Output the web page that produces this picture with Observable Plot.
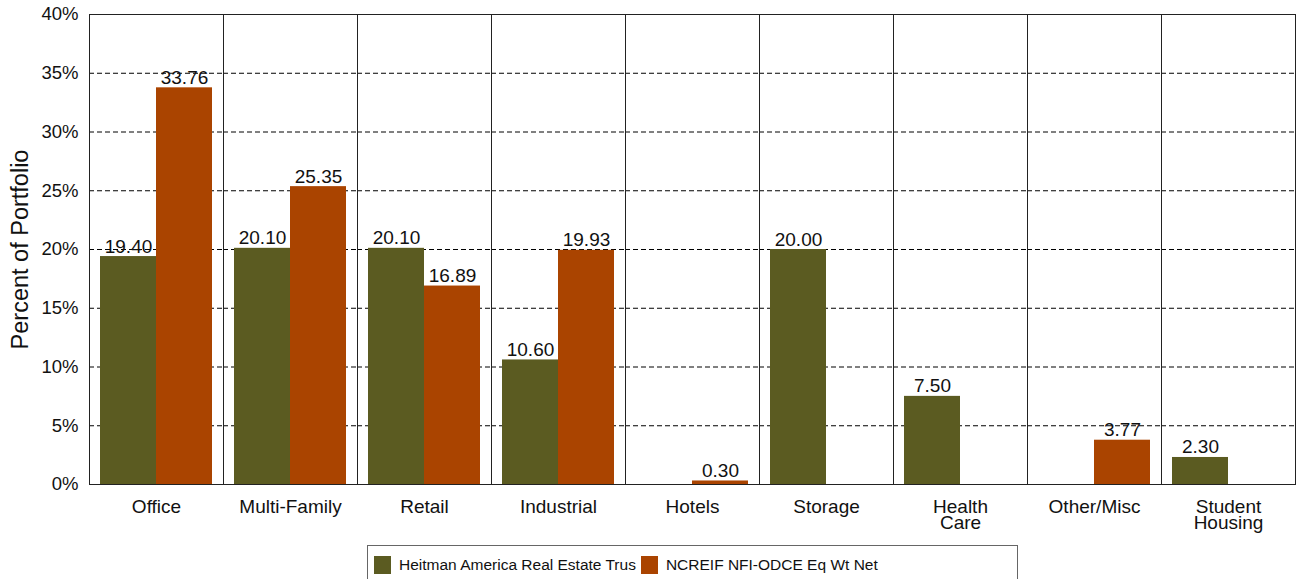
<!DOCTYPE html>
<html>
<head>
<meta charset="utf-8">
<script src="https://cdn.jsdelivr.net/npm/d3@7"></script>
<script src="https://cdn.jsdelivr.net/npm/@observablehq/plot@0.6"></script>
<style>
  body { margin: 0; background: #fff; font-family: "Liberation Sans", Arial, sans-serif; }
  #chart { width: 1303px; }
  #chart svg { display: block; }
  #legend { margin-left: 367px; margin-top: 5px; width: 651px; height: 44px; border: 1px solid #666; box-sizing: border-box; padding: 10px 0 0 6px; font-size: 15.5px; color: #111; white-space: nowrap; }
  #legend .sw { display: inline-block; width: 17px; height: 18px; margin-right: 8px; vertical-align: -4px; }
  #legend .item { display: inline-block; margin-right: 5px; }
</style>
</head>
<body>
<div id="chart"></div>
<div id="legend"></div>
<script>
const categories = ["Office", "Multi-Family", "Retail", "Industrial", "Hotels", "Storage", "Health Care", "Other/Misc", "Student Housing"];
const tickLabels = ["Office", "Multi-Family", "Retail", "Industrial", "Hotels", "Storage", "Health\nCare", "Other/Misc", "Student\nHousing"];
const seriesNames = ["Heitman America Real Estate Trus", "NCREIF NFI-ODCE Eq Wt Net"];
const heitman = [19.40, 20.10, 20.10, 10.60, null, 20.00, 7.50, null, 2.30];
const ncreif = [33.76, 25.35, 16.89, 19.93, 0.30, null, null, 3.77, null];
const colors = ["#5b5b21", "#aa4400"];
const yTicks = [0, 5, 10, 15, 20, 25, 30, 35, 40];
const gridTicks = [5, 10, 15, 20, 25, 30, 35];

const data = [];
categories.forEach((c, i) => {
  if (heitman[i] != null) data.push({cat: c, series: seriesNames[0], value: heitman[i]});
  if (ncreif[i] != null) data.push({cat: c, series: seriesNames[1], value: ncreif[i]});
});

const plot = Plot.plot({
  width: 1303,
  height: 540,
  marginTop: 14,
  marginBottom: 56,
  marginLeft: 87,
  marginRight: 7,
  style: {fontFamily: "'Liberation Sans', Arial, sans-serif", fontSize: "16px", color: "#111"},
  fx: {domain: categories, padding: 0},
  x: {domain: seriesNames, paddingInner: 0, paddingOuter: 0.19, axis: null},
  y: {domain: [0, 40]},
  color: {domain: seriesNames, range: colors},
  marks: [
    Plot.gridY(gridTicks, {stroke: "#000", strokeOpacity: 1, strokeDasharray: "5,3", strokeWidth: 1}),
    Plot.barY(data, {fx: "cat", x: "series", y: "value", fill: "series"}),
    Plot.text(data, {fx: "cat", x: "series", y: "value", text: d => d.value.toFixed(2), lineAnchor: "bottom", dy: -4, fontSize: 19, fill: "#111"}),
    Plot.frame({stroke: "#222", strokeWidth: 1}),
    Plot.axisY({ticks: yTicks, tickFormat: d => d + "%", tickSize: 0, tickPadding: 11, fontSize: 18.5, label: null}),
    Plot.axisFx({anchor: "bottom", tickSize: 0, tickPadding: 17, fontSize: 19, label: null, lineHeight: 0.85,
      tickFormat: d => tickLabels[categories.indexOf(d)]}),
    Plot.text(["Percent of Portfolio"], {frameAnchor: "left", textAnchor: "middle", facet: "super", rotate: -90, dx: -69, fontSize: 23.5, fill: "#111"})
  ]
});

document.getElementById("chart").appendChild(plot);
const legend = document.getElementById("legend");
seriesNames.forEach((s, i) => {
  const item = document.createElement("span");
  item.className = "item";
  const sw = document.createElement("span");
  sw.className = "sw";
  sw.style.background = colors[i];
  item.appendChild(sw);
  item.appendChild(document.createTextNode(s));
  legend.appendChild(item);
});
</script>
</body>
</html>
